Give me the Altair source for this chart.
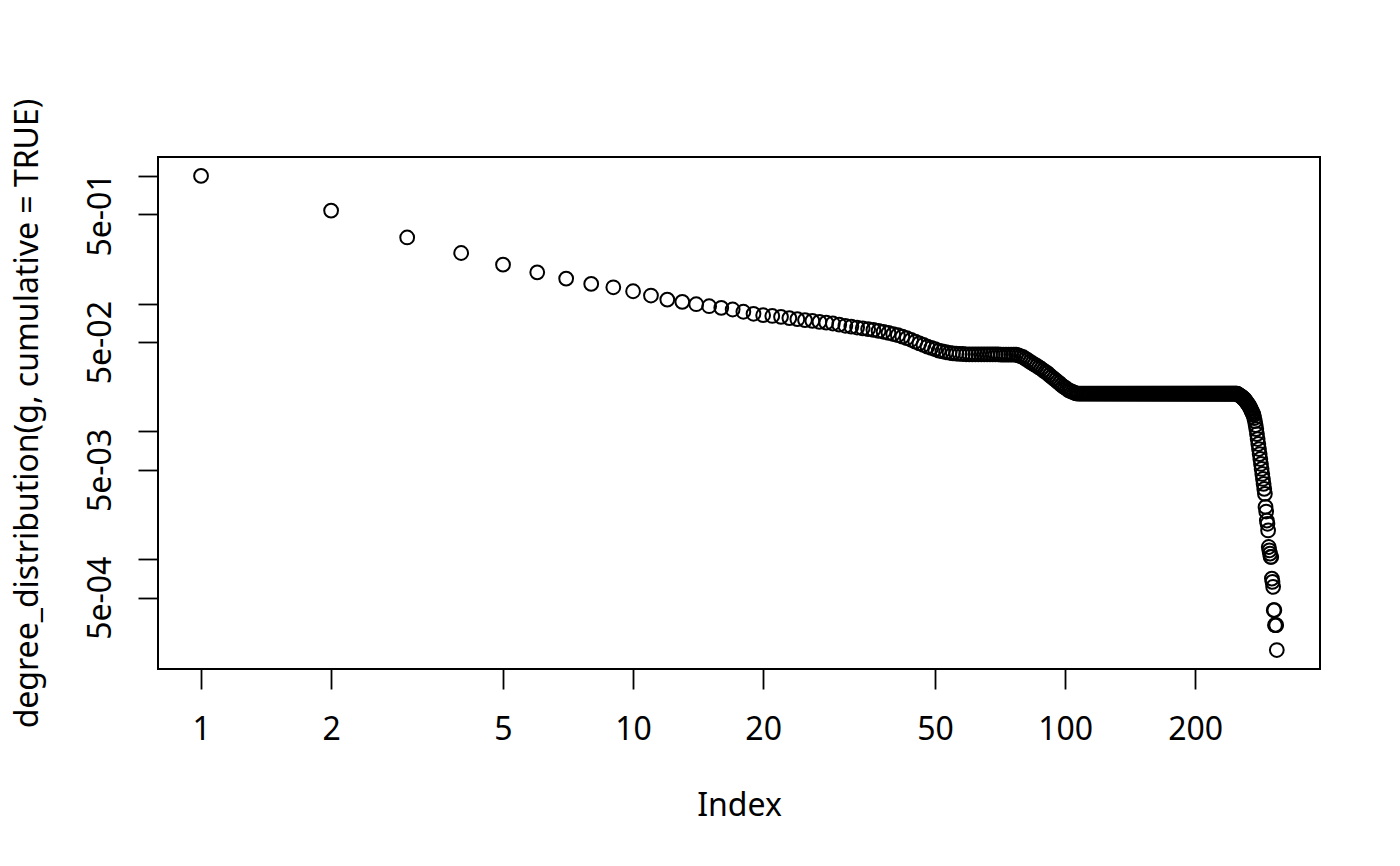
import altair as alt
import pandas as pd

# Cumulative degree distribution values (index 1..309)
head_values = [1.0, 0.536, 0.330, 0.2495, 0.2021, 0.1761, 0.1572, 0.1429, 0.1345, 0.1252,
               0.1159, 0.1078, 0.1035, 0.0991, 0.0956, 0.0929, 0.0901, 0.0865, 0.0834, 0.0813]

slope_values = [0.0802, 0.0790, 0.0772, 0.0757, 0.0745, 0.0733, 0.0721, 0.0711, 0.0700, 0.0686,
                0.0672, 0.0662, 0.0651, 0.0642, 0.0633, 0.0624, 0.0613, 0.0603, 0.0592, 0.0579,
                0.0567, 0.0553, 0.0538, 0.0522, 0.0505, 0.0490, 0.0476, 0.0462, 0.0451, 0.0441,
                0.0430, 0.0423, 0.0417, 0.0413, 0.0409, 0.0407, 0.0405, 0.0404, 0.0402]

shelf_values = [0.0401] * 11 + [0.0399] * 7

drop_values = [0.0394, 0.0387, 0.0381, 0.0370, 0.0361, 0.0351, 0.0342, 0.0334, 0.0326, 0.0318,
               0.0310, 0.0301, 0.0293, 0.0286, 0.0276, 0.0268, 0.0260, 0.0253, 0.0245, 0.0239,
               0.0231, 0.0225, 0.0220, 0.0215, 0.0210, 0.0207, 0.0204, 0.0201, 0.0199]

plateau_values = [0.01975] * 144

tail_values = [0.01957, 0.01940, 0.01923, 0.01905, 0.01888, 0.01872, 0.01855, 0.01822, 0.01806, 0.01790,
               0.01758, 0.01727, 0.01696, 0.01666, 0.01636, 0.01606, 0.01578, 0.01536, 0.01495, 0.01455,
               0.01417, 0.01379, 0.01342, 0.01272, 0.01205, 0.01122, 0.01044, 0.00954, 0.00873, 0.00798,
               0.00729, 0.00666, 0.00609, 0.00557, 0.00509, 0.00465, 0.00425, 0.00389, 0.00355, 0.00325,
               0.00257, 0.002364, 0.002011, 0.001895, 0.001680, 0.001247, 0.001173, 0.001106, 0.001042, 0.001042,
               0.000706, 0.000665, 0.000608, 0.0003995, 0.0003995, 0.000305, 0.000305, 0.000305, 0.0001948]

values = head_values + slope_values + shelf_values + drop_values + plateau_values + tail_values
index = list(range(1, len(values) + 1))

x_ticks = [1, 2, 5, 10, 20, 50, 100, 200]
y_ticks = [1, 0.5, 0.1, 0.05, 0.01, 0.005, 0.001, 0.0005]

df = pd.DataFrame({"Index": index, "value": values})

FONT = "Noto Sans"
FS = 32

y_label_expr = (
    "datum.value == 0.5 ? '5e-01' : datum.value == 0.05 ? '5e-02' : "
    "datum.value == 0.005 ? '5e-03' : datum.value == 0.0005 ? '5e-04' : ''"
)

chart = alt.Chart(df).mark_point(
    shape="circle", filled=False, color="black", size=190, strokeWidth=2, opacity=1
).encode(
    x=alt.X(
        "Index:Q",
        scale=alt.Scale(type="log", domain=[0.795, 389.0], nice=False, zero=False),
        axis=alt.Axis(
            values=x_ticks, format="d", domain=False, grid=False,
            tickSize=20, tickWidth=1.8, tickColor="black",
            labelFont=FONT, labelFontSize=FS, labelColor="black",
            labelBaseline="alphabetic", labelPadding=50, labelOverlap=False, labelFlush=False,
            title="Index", titleFont=FONT, titleFontSize=FS, titleFontWeight="normal",
            titleColor="black", titleX=581, titleY=146, titleAlign="center",
            titleBaseline="alphabetic",
        ),
    ),
    y=alt.Y(
        "value:Q",
        scale=alt.Scale(type="log", domain=[1.384e-4, 1.407], nice=False, zero=False),
        axis=alt.Axis(
            values=y_ticks, labelExpr=y_label_expr, domain=False, grid=False,
            tickSize=20, tickWidth=1.8, tickColor="black",
            labelFont=FONT, labelFontSize=FS, labelColor="black",
            labelAngle=-90, labelAlign="center", labelBaseline="alphabetic",
            labelPadding=28, labelOverlap=False, labelFlush=False,
            title="degree_distribution(g, cumulative = TRUE)", titleFont=FONT,
            titleFontSize=FS, titleFontWeight="normal", titleColor="black",
            titleAngle=-90, titleX=-121, titleY=256, titleAlign="center",
            titleBaseline="alphabetic",
        ),
    ),
).properties(
    width=1162,
    height=512,
    background="white",
    autosize=alt.AutoSizeParams(type="none"),
    padding={"left": 150, "top": 149, "right": 72, "bottom": 180},
).configure_view(
    stroke="black", strokeWidth=2, fill="white"
)

chart.save("out.html", embed_options={"renderer": "svg", "actions": False})
